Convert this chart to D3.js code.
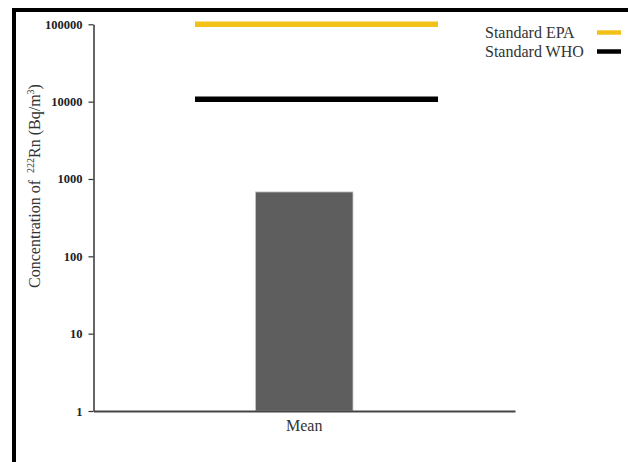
<!DOCTYPE html>
<html>
<head>
<meta charset="utf-8">
<script src="https://cdn.jsdelivr.net/npm/d3@7"></script>
<style>
  html, body { margin: 0; padding: 0; background: #fff; }
  svg { display: block; }
  text { font-family: "Liberation Serif", "Times New Roman", serif; }
</style>
</head>
<body>
<svg id="chart" width="628" height="462"></svg>
<script>
// ---- data ----
const categories = ["Mean"];
const meanValues = [680];
const standardNames = ["Standard EPA", "Standard WHO"];
const standardValues = [100000, 10700];
const standardColors = ["#f3c21a", "#000000"];
const tickValues = [1, 10, 100, 1000, 10000, 100000];

// ---- layout ----
const svg = d3.select("#chart");
const plot = { left: 93.5, right: 515, top: 24.3, bottom: 411 };

// frame (top and left thick borders)
svg.append("line").attr("x1", 12).attr("x2", 628).attr("y1", 10).attr("y2", 10)
  .attr("stroke", "#000").attr("stroke-width", 4);
svg.append("line").attr("x1", 14).attr("x2", 14).attr("y1", 8).attr("y2", 462)
  .attr("stroke", "#000").attr("stroke-width", 4);

const y = d3.scaleLog().domain([1, 100000]).range([plot.bottom, plot.top]);
const x = d3.scaleBand().domain(categories).range([plot.left, plot.right]).padding(0.6243);

// bars
svg.selectAll("rect.bar").data(categories).join("rect")
  .attr("class", "bar")
  .attr("x", d => x(d))
  .attr("width", x.bandwidth())
  .attr("y", (d, i) => y(meanValues[i]))
  .attr("height", (d, i) => y(1) - y(meanValues[i]))
  .attr("fill", "#5e5e5e")
  .attr("stroke", "#c8c8c8")
  .attr("stroke-width", 0.8);

// standard lines
const lineX1 = 195, lineX2 = 438;
svg.selectAll("line.std").data(standardValues).join("line")
  .attr("class", "std")
  .attr("x1", lineX1).attr("x2", lineX2)
  .attr("y1", d => y(d)).attr("y2", d => y(d))
  .attr("stroke", (d, i) => standardColors[i])
  .attr("stroke-width", 5.5);

// y axis
const yAxis = d3.axisLeft(y).tickValues(tickValues).tickFormat(d3.format("d"))
  .tickSize(5).tickSizeOuter(0).tickPadding(6);
const gy = svg.append("g").attr("transform", `translate(${plot.left},0)`).call(yAxis);
gy.select(".domain").attr("stroke", "#333").attr("stroke-width", 1.5);
gy.selectAll(".tick line").attr("stroke", "#333").attr("stroke-width", 1.2);
gy.selectAll(".tick text")
  .attr("font-family", "'Liberation Serif', serif")
  .attr("font-size", 12.5).attr("font-weight", "bold").attr("fill", "#222");

// x axis
const xAxis = d3.axisBottom(x).tickSize(0).tickPadding(7);
const gx = svg.append("g").attr("transform", `translate(0,${plot.bottom})`).call(xAxis);
gx.select(".domain").attr("stroke", "#444").attr("stroke-width", 2);
gx.selectAll(".tick text")
  .attr("font-family", "'Liberation Serif', serif")
  .attr("font-size", 16).attr("fill", "#333").attr("dy", "0.8em");

// y title
const title = svg.append("text")
  .attr("transform", "translate(40,186) rotate(-90)")
  .attr("text-anchor", "middle")
  .attr("font-size", 16)
  .attr("fill", "#333");
title.append("tspan").text("Concentration of");
title.append("tspan").attr("font-size", 10).attr("dx", 7).attr("dy", -6).text("222");
title.append("tspan").attr("dy", 6).text("Rn (Bq/m");
title.append("tspan").attr("font-size", 10).attr("dy", -6).text("3");
title.append("tspan").attr("dy", 6).text(")");

// legend
const legend = svg.append("g");
standardNames.forEach((name, i) => {
  const yy = 38 + i * 19;
  legend.append("text").attr("x", 485).attr("y", yy)
    .attr("font-size", 16).attr("fill", "#333").text(name);
  legend.append("line").attr("x1", 597).attr("x2", 621)
    .attr("y1", yy - 5.5).attr("y2", yy - 5.5)
    .attr("stroke", standardColors[i]).attr("stroke-width", 4.5);
});
</script>
</body>
</html>
